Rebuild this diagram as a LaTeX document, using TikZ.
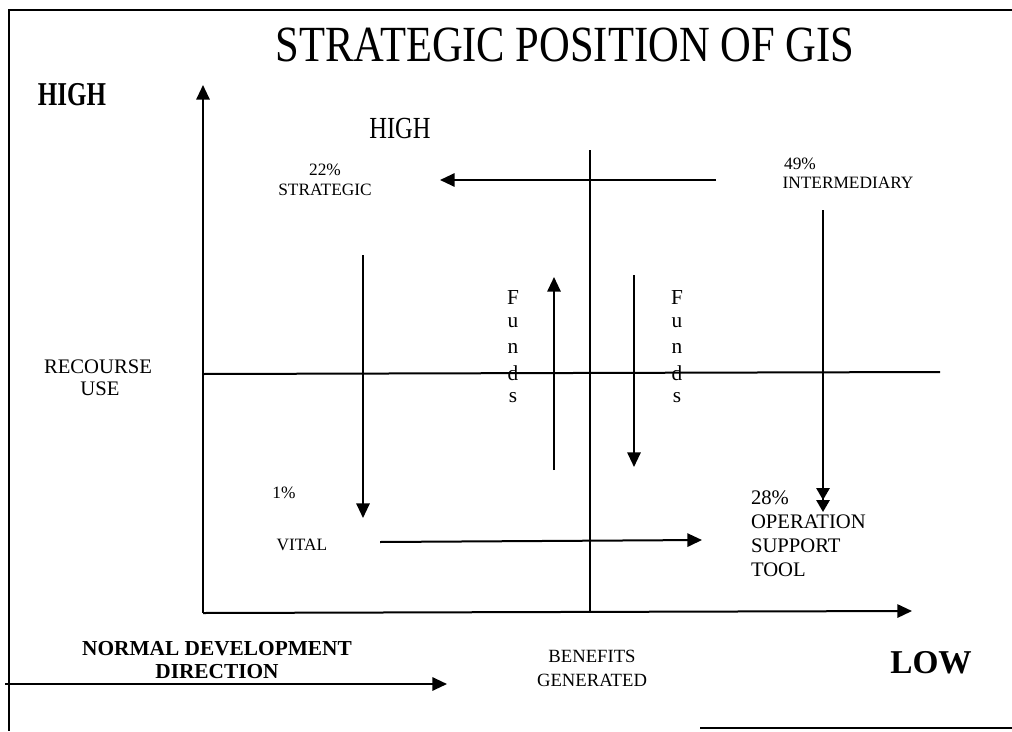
\documentclass[tikz,border=0pt]{standalone}
\usepackage{fontspec}
\setmainfont{Liberation Serif}
\usetikzlibrary{arrows.meta}

\tikzset{every picture/.style={line width=1.5pt}}

\begin{document}
\begin{tikzpicture}[x=0.75pt,y=0.75pt,yscale=-1,xscale=1,
  tip/.style={-{Triangle[length=11pt,width=10pt]}},
  dbltip/.style={-{Triangle[length=9pt,width=10pt]Triangle[length=9pt,width=10pt]}},
  lbl/.style={inner sep=0pt,font=\fontsize{13}{15}\selectfont},
  fund/.style={inner sep=0pt,font=\fontsize{16}{18}\selectfont}]
\useasboundingbox (0,0) rectangle (1012,731);

%Frame
\draw (1012,10) -- (9,10) -- (9,731) ;
\draw (700,728) -- (1012,728) ;

%Axes
\coordinate (org) at (203,613) ;
\coordinate (ytop) at (203,85) ;
\coordinate (xend) at (912,611) ;
\draw [tip] (org) -- (ytop) ;
\draw [tip] (org) -- (xend) ;

%Quadrant lines
\coordinate (hl) at (203,374) ;
\coordinate (hr) at (940,372) ;
\coordinate (vt) at (590,150) ;
\coordinate (vb) at (590,613) ;
\draw (hl) -- (hr) ;
\draw (vt) -- (vb) ;

%Moves between quadrants
\coordinate (intA) at (716,180) ;
\coordinate (strB) at (440,180) ;
\draw [tip] (intA) -- (strB) ;
\coordinate (intC) at (823,210) ;
\coordinate (opsD) at (823,512) ;
\draw [dbltip] (intC) -- (opsD) ;
\coordinate (strC) at (363,255) ;
\coordinate (vitD) at (363,518) ;
\draw [tip] (strC) -- (vitD) ;
\coordinate (vitA) at (380,542) ;
\coordinate (opsB) at (702,540) ;
\draw [tip] (vitA) -- (opsB) ;

%Funds arrows
\coordinate (fupA) at (554,470) ;
\coordinate (fupB) at (554,277) ;
\draw [tip] (fupA) -- (fupB) ;
\coordinate (fdnA) at (634,275) ;
\coordinate (fdnB) at (634,467) ;
\draw [tip] (fdnA) -- (fdnB) ;

%Development arrow
\coordinate (devA) at (5,684) ;
\coordinate (devB) at (447,684) ;
\draw [tip] (devA) -- (devB) ;

% Text Node
\draw (565,45) node (title) {\fontsize{38}{40}\selectfont\scalebox{0.84}[1]{STRATEGIC POSITION OF GIS}};
% Text Node
\draw (72,95) node (hiA) {\fontsize{25}{27}\selectfont\bfseries\scalebox{0.75}[1]{HIGH}};
% Text Node
\draw (400,128) node (hiB) {\fontsize{23}{25}\selectfont\scalebox{0.8}[1]{HIGH}};
% Text Node
\draw (325,170) node (strP) [lbl] {22\%};
\draw (325,190) node (str) [lbl] {STRATEGIC};
% Text Node
\draw (800,164) node (intP) [lbl] {49\%};
\draw (848,183) node (int) [lbl] {INTERMEDIARY};
% Text Node
\draw (284,493) node (vitP) [lbl] {1\%};
\draw (302,545) node (vit) [lbl] {VITAL};
% Text Node
\draw (750,490) node (ops) [lbl,anchor=north west,align=left,font=\fontsize{15.5}{18}\selectfont] {28\%\\OPERATION\\SUPPORT\\TOOL};
% Text Node
\draw (98,367) node (rec) [lbl,font=\fontsize{15.5}{17}\selectfont] {RECOURSE};
\draw (100,389) node (use) [lbl,font=\fontsize{15.5}{17}\selectfont] {USE};
% Text Node
\foreach \ch [count=\k from 0] in {F,u,n,d,s} {
  \draw (513,298+25*\k) node (fl\k) [fund] {\ch};
  \draw (677,298+25*\k) node (fr\k) [fund] {\ch};
}
% Text Node
\draw (217,660) node (ndd) [align=center,font=\fontsize{16}{17}\selectfont\bfseries,inner sep=0pt] {NORMAL DEVELOPMENT\\DIRECTION};
% Text Node
\draw (592,668) node (ben) [align=center,font=\fontsize{14}{18}\selectfont,inner sep=0pt] {BENEFITS\\GENERATED};
% Text Node
\draw (931,663) node (low) {\fontsize{25}{27}\selectfont\bfseries LOW};

\end{tikzpicture}
\end{document}
